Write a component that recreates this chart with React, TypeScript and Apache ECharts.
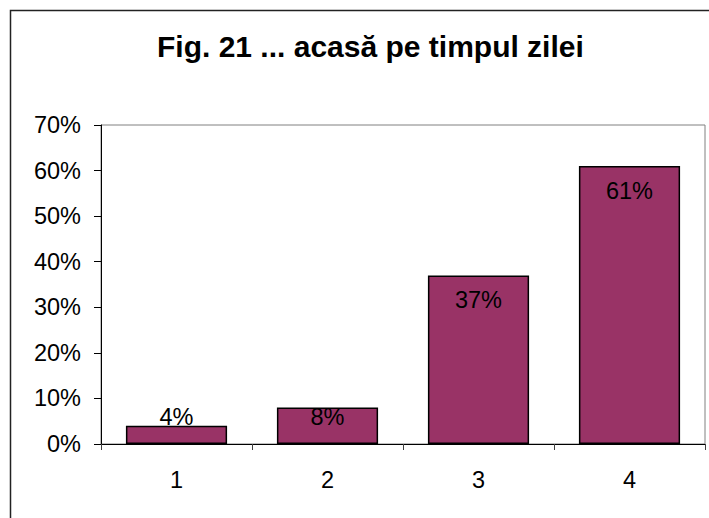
import React, { useEffect, useRef } from "react";
import * as echarts from "echarts";

const titleText = "Fig. 21 ... acasă pe timpul zilei";
const categories = ["1", "2", "3", "4"];
const values = [0.04, 0.08, 0.37, 0.61];
const yMax = 0.7;
const yStep = 0.1;

const FONT = "'Liberation Sans', Arial, sans-serif";

export default function App() {
  const ref = useRef<HTMLDivElement>(null);
  useEffect(() => {
    if (!ref.current) return;
    const chart = echarts.init(ref.current, null, { renderer: "svg" });
    const pct = (v: number) => `${Math.round(v * 100)}%`;
    chart.setOption({
      animation: false,
      backgroundColor: "#ffffff",
      textStyle: { fontFamily: FONT },
      title: {
        text: titleText,
        left: 157,
        top: 31,
        padding: 0,
        textStyle: { fontFamily: FONT, fontSize: 30, fontWeight: "bold", color: "#000" },
      },
      graphic: [
        {
          type: "rect",
          shape: { x: 10.5, y: 10.5, width: 900, height: 700 },
          style: { fill: "none", stroke: "#222", lineWidth: 1.5 },
          silent: true,
          z: 100,
        },
      ],
      grid: {
        left: 101,
        top: 125,
        right: 4,
        bottom: 74,
        show: true,
        borderColor: "#808080",
        borderWidth: 1,
      },
      xAxis: {
        type: "category",
        data: categories,
        boundaryGap: true,
        axisLine: { show: true, lineStyle: { color: "#000", width: 1 } },
        axisTick: { show: true, alignWithLabel: false, length: 6, lineStyle: { color: "#404040" } },
        axisLabel: { fontFamily: FONT, fontSize: 23.5, color: "#000", margin: 24 },
        splitLine: { show: false },
      },
      yAxis: {
        type: "value",
        min: 0,
        max: yMax,
        interval: yStep,
        axisLine: { show: true, lineStyle: { color: "#000", width: 1 } },
        axisTick: { show: true, length: 7, lineStyle: { color: "#000" } },
        axisLabel: {
          fontFamily: FONT,
          fontSize: 23.5,
          color: "#000",
          margin: 20,
          formatter: (v: number) => pct(v),
        },
        splitLine: { show: false },
      },
      series: [
        {
          type: "bar",
          data: values.map((v) => ({
            value: v,
            label: v > 0.2
              ? { position: "insideTop", distance: 13 }
              : { position: "insideBottom", distance: 15 },
          })),
          barCategoryGap: "33%",
          itemStyle: { color: "#993366", borderColor: "#000", borderWidth: 1.5 },
          label: {
            show: true,
            fontFamily: FONT,
            fontSize: 23.5,
            color: "#000",
            formatter: (p: any) => pct(p.value),
          },
        },
      ],
    });
    return () => chart.dispose();
  }, []);
  return (
    <div
      ref={ref}
      style={{ position: "fixed", left: 0, top: 0, width: 709, height: 518 }}
    />
  );
}
